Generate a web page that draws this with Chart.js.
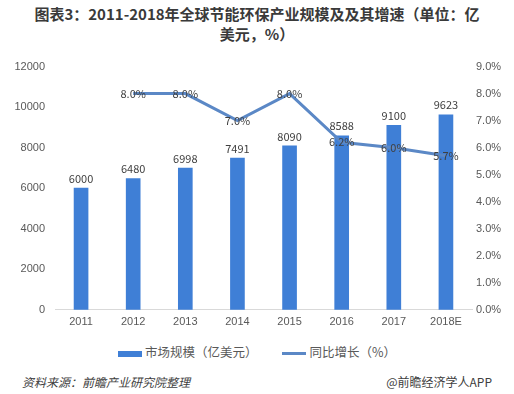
<!DOCTYPE html>
<html>
<head>
<meta charset="utf-8">
<script src="https://cdn.jsdelivr.net/npm/chart.js@4/dist/chart.umd.min.js"></script>
<style>
  body { margin: 0; width: 514px; height: 394px; background: #fff; overflow: hidden;
         font-family: "Noto Sans CJK SC", "Noto Sans", sans-serif; position: relative; }
  #title { position: absolute; top: 4px; left: 0; width: 514px; text-align: center;
           font-weight: bold; font-size: 15px; line-height: 20px; color: #3a3a3a; }
  #wrap { position: absolute; top: 50px; left: 0; width: 514px; height: 285px; }
  #legend { position: absolute; top: 342px; left: 0; width: 514px; text-align: center;
            font-size: 12.5px; color: #595959; }
  #legend span.item { display: inline-block; margin: 0 11px; }
  #legend i { display: inline-block; width: 24px; vertical-align: middle; margin-right: 3px; }
  #src { position: absolute; top: 373px; left: 22px; font-size: 12px; font-style: italic; color: #404040; }
  #app { position: absolute; top: 373px; right: 22px; font-size: 12px; color: #404040; }
</style>
</head>
<body>
<div id="title">图表3：2011-2018年全球节能环保产业规模及及其增速（单位：亿<br>美元，%）</div>
<div id="wrap"><canvas id="c" width="514" height="285"></canvas></div>
<div id="legend">
  <span class="item"><i style="height:6px;background:#3f7fd6"></i>市场规模（亿美元）</span>
  <span class="item"><i style="height:3px;background:#5b88c6"></i>同比增长（%）</span>
</div>
<div id="src">资料来源：前瞻产业研究院整理</div>
<div id="app">@前瞻经济学人APP</div>
<script>
const years = ["2011", "2012", "2013", "2014", "2015", "2016", "2017", "2018E"];
const marketSize = [6000, 6480, 6998, 7491, 8090, 8588, 9100, 9623];
const growth = [null, 8.0, 8.0, 7.0, 8.0, 6.2, 6.0, 5.7];

const labelPlugin = {
  id: "valueLabels",
  afterDatasetsDraw(chart) {
    const ctx = chart.ctx;
    ctx.save();
    ctx.font = "11px 'Noto Sans CJK SC', sans-serif";
    ctx.fillStyle = "#404040";
    ctx.textAlign = "center";
    chart.getDatasetMeta(0).data.forEach((bar, i) => {
      ctx.textBaseline = "bottom";
      ctx.fillText(String(marketSize[i]), bar.x, bar.y - 4);
    });
    chart.getDatasetMeta(1).data.forEach((pt, i) => {
      if (growth[i] == null) return;
      ctx.textBaseline = "middle";
      ctx.fillText(growth[i].toFixed(1) + "%", pt.x, pt.y);
    });
    ctx.restore();
  }
};

new Chart(document.getElementById("c"), {
  type: "bar",
  data: {
    labels: years,
    datasets: [
      {
        label: "市场规模（亿美元）",
        data: marketSize,
        backgroundColor: "#3f7fd6",
        barThickness: 14,
        yAxisID: "y",
        order: 2
      },
      {
        type: "line",
        label: "同比增长（%）",
        data: growth,
        borderColor: "#5b88c6",
        borderWidth: 3,
        pointRadius: 0,
        tension: 0,
        yAxisID: "y1",
        order: 1
      }
    ]
  },
  options: {
    responsive: false,
    animation: false,
    layout: { padding: { top: 8, bottom: 0, left: 0, right: 0 } },
    plugins: { legend: { display: false }, tooltip: { enabled: false } },
    scales: {
      x: {
        grid: { display: false, drawTicks: false },
        border: { color: "#d9d9d9" },
        ticks: { color: "#595959", font: { size: 11 }, padding: 6 }
      },
      y: {
        min: 0, max: 12000,
        ticks: { stepSize: 2000, color: "#595959", font: { size: 11 }, padding: 10,
                 callback: v => String(v) },
        grid: { display: false, drawTicks: false },
        border: { display: false },
        afterFit(s) { s.width = 55; }
      },
      y1: {
        position: "right",
        min: 0, max: 9,
        ticks: { stepSize: 1, color: "#595959", font: { size: 11 }, padding: 4,
                 callback: v => v.toFixed(1) + "%" },
        grid: { display: false, drawTicks: false },
        border: { display: false },
        afterFit(s) { s.width = 42; }
      }
    }
  },
  plugins: [labelPlugin]
});
</script>
</body>
</html>
